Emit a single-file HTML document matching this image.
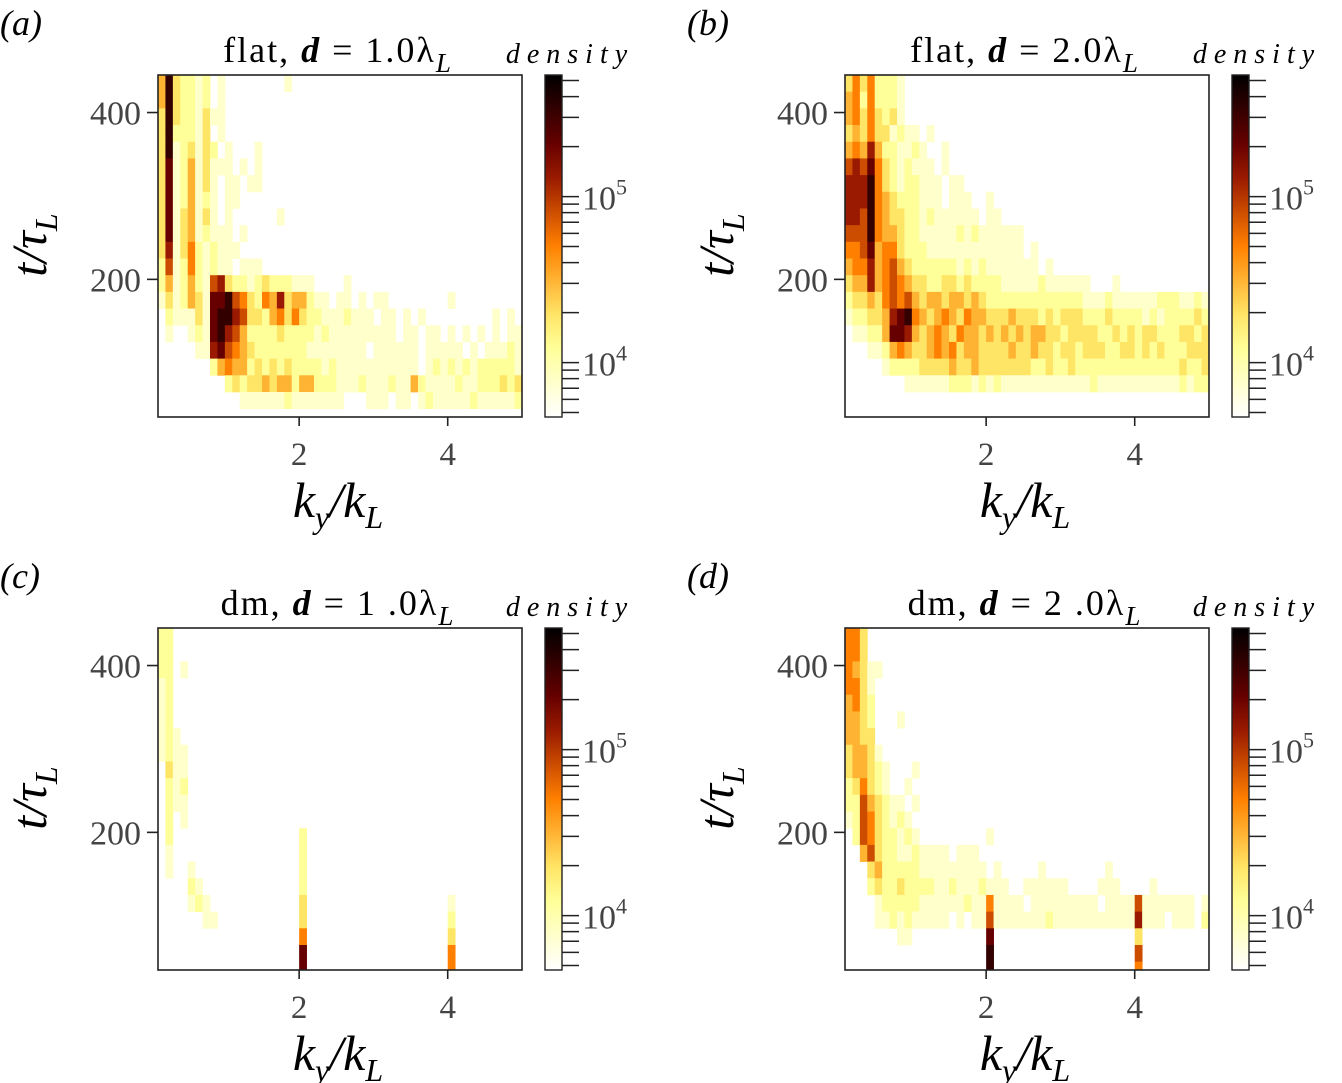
<!DOCTYPE html>
<html><head><meta charset="utf-8">
<style>
html,body{margin:0;padding:0;background:#fff;}
svg{display:block;font-family:"Liberation Serif",serif;}
</style></head>
<body>
<svg id="fig" width="1342" height="1083" viewBox="0 0 1342 1083" xmlns="http://www.w3.org/2000/svg"></svg>
<script>
// ---- chart data ----
// k_y/k_L bins: 0.1 .. 5.0, step 0.1 (one char per bin, spaces ignored); t/tau_L rows from 445 downward, 20 per row
// each char = density level 0 (empty) .. 9 (max)
const panelTitles = ["flat, d = 1.0λ", "flat, d = 2.0λ", "dm, d = 1 .0λ", "dm, d = 2 .0λ"];
const panelLetters = ["a", "b", "c", "d"];
const xTickValues = [2, 4];
const xTickLabels = ["2", "4"];
const yTickValues = [200, 400];
const yTickLabels = ["200", "400"];
const cbarMajorValues = [1e4, 1e5];
const cbarMajorLabels = ["10", "10"];
const cbarMajorExps = ["4", "5"];
const gridA = [
"4932212010 0000000100",
"4932212010",
"3932213110",
"3922213010",
"3912313201 0001",
"3812413111 0101",
"3812413101 1011",
"3812412101 10",
"3813413101 0000001",
"3813412111 01",
"3713521211 1",
"2612521211 0111",
"2412421673 2212322211 1000010",
"1312431889 6532547344 2110110101 1000000001",
"0211131899 7633245353 2211121110 1101010000 000001010",
"0100121897 6422223222 2121111111 1101101101 010101011",
"0000011786 5432222222 1111111101 1111101111 101011121",
"0000000245 4423232322 2212111111 1111101212 121222221",
"0000000002 3233434424 4222111211 1211421111 211222323",
"0000000000 0111111211 1111100011 1011012111 112111112"];
const gridB = [
"3535222100",
"4525222100",
"4535323100 00",
"3435331211 01",
"4547422112 1001",
"6768532121 1101",
"7779532122 1110110",
"7779543222 1110111001",
"7769543322 1211111101 1",
"6669544322 1111121211 1111",
"5568455322 2111111111 1111010",
"4557456432 2222212121 11111101",
"3447456543 3223323222 2111112111 1110001",
"2334356564 3443443432 2222222222 2211121111 112221121",
"1223347895 4345435443 3343332323 3322232222 121222232",
"0112248874 3454354434 3434344332 3333223232 332223323",
"0001124543 3454534433 3343343323 3233322332 323222333",
"0000012222 3333433433 3333322322 3222222222 222223223",
"0000000011 1111222121 2111111111 1112111111 111112122",
"0"];
const gridC = [
"22","22","22010","12","12","12","121","1211","0311","0212","0211","0201",
"0200000000 0000000002",
"0100000000 0000000002",
"0100100000 0000000002",
"0000210000 0000000002",
"0000121000 0000000003 0000000000 0000000001",
"0000001100 0000000003 0000000000 0000000002",
"0000000000 0000000005 0000000000 0000000003",
"0000000000 0000000008 0000000000 0000000005",
"0000000000 0000000008 0000000000 0000000005"];
const gridD = [
"553",
"5530",
"5431 1",
"5531",
"4532",
"44320001",
"4433",
"34431",
"3443210001",
"2353210010",
"2264321101",
"1265321210",
"0265322121 0000000001",
"0046322112 1111011100 00",
"0003422222 1111111110 1000001000 000001",
"0002322322 2211211121 1100111111 0000111000 01",
"0000122222 1111112115 1111011111 1111011116 111111101",
"0000112121 1111010116 1111111211 1111111117 111011102",
"0000000110 0000000008 0000000000 0000000003",
"0000000000 0000000009 0000000000 0000000006",
"0000000000 0000000009 0000000000 0000000005"];
const grids = [gridA, gridB, gridC, gridD];

const NS = "http://www.w3.org/2000/svg";
const svg = document.getElementById("fig");
function el(tag, attrs, parent) {
  const e = document.createElementNS(NS, tag);
  for (const k in attrs) e.setAttribute(k, attrs[k]);
  (parent || svg).appendChild(e);
  return e;
}
// afmhot_r colormap, v in [0,1]
function cmap(v) {
  const s = 2 * (1 - v);
  const c = x => Math.round(255 * Math.max(0, Math.min(1, x)));
  return `rgb(${c(s)},${c(s - 0.5)},${c(s - 1)})`;
}
const K0 = 0.1, K1 = 5.0, T0 = 35, T1 = 445, DK = 0.1, DT = 20;
const origins = [[158, 75], [845, 75], [158, 628], [845, 628]];
const PW = 364, PH = 342;
const CBMIN = Math.log10(4700), CBMAX = Math.log10(540000);

origins.forEach((o, p) => {
  const [x0, y0] = o;
  const g = el("g", {});
  
  
  const xs = k => x0 + (k - K0) / (K1 - K0) * PW;
  const ys = t => y0 + (T1 - t) / (T1 - T0) * PH;
  const clip = el("clipPath", { id: "clip" + p }, g);
  el("rect", { x: x0, y: y0, width: PW, height: PH }, clip);
  const hm = el("g", { "clip-path": `url(#clip${p})` }, g);
  
  
  grids[p].forEach((rowRaw, r) => {
    const row = rowRaw.replace(/ /g, "");
    const tHi = T1 - r * DT, tLo = tHi - DT;
    for (let i = 0; i < row.length; i++) {
      const lv = +row[i];
      if (!lv) continue;
      const kLo = K0 + i * DK;
      const rc = el("rect", {
        x: xs(kLo).toFixed(2), y: ys(tHi).toFixed(2),
        width: (xs(kLo + DK) - xs(kLo) + 0.4).toFixed(2),
        height: (ys(tLo) - ys(tHi) + 0.4).toFixed(2),
        fill: cmap(lv / 10)
      }, hm);
      
      
    }
  });
  const frame = el("rect", { x: x0, y: y0, width: PW, height: PH, fill: "none", stroke: "#222", "stroke-width": 1.6 }, g);
  
  
  xTickValues.forEach((v, i) => {
    const x = xs(v);
    el("line", { x1: x, x2: x, y1: y0 + PH, y2: y0 + PH + 9, stroke: "#222", "stroke-width": 1.6 }, g);
    const t = el("text", { x: x, y: y0 + PH + 48, "font-size": 33, fill: "#444", "text-anchor": "middle" }, g);
    t.textContent = xTickLabels[i];
    
    
  });
  yTickValues.forEach((v, i) => {
    const y = ys(v);
    el("line", { x1: x0 - 11, x2: x0, y1: y, y2: y, stroke: "#222", "stroke-width": 1.6 }, g);
    const t = el("text", { x: x0 - 17, y: y + 12, "font-size": 34, fill: "#444", "text-anchor": "end" }, g);
    t.textContent = yTickLabels[i];
    
    
  });
  const xt = el("text", { x: x0 + PW / 2 - 2, y: y0 + PH + 100, "font-size": 50, "font-style": "italic", "text-anchor": "middle" }, g);
  xt.innerHTML = 'k<tspan font-size="32" dy="11">y</tspan><tspan dy="-11">/k</tspan><tspan font-size="32" dy="11">L</tspan>';
  
  
  const yt = el("text", { x: 0, y: 0, "font-size": 50, "font-style": "italic", "text-anchor": "middle", transform: `translate(${x0 - 112},${y0 + 170}) rotate(-90)` }, g);
  yt.innerHTML = 't/τ<tspan font-size="32" dy="11">L</tspan>';
  
  
  const pl = el("text", { x: x0 - 158, y: y0 - 40, "font-size": 36, "font-style": "italic" }, g);
  pl.innerHTML = '(' + panelLetters[p] + ')';
  
  
  const parts = panelTitles[p].split("d = ");
  const tt = el("text", { x: x0 + PW / 2 - 2, y: y0 - 13, "font-size": 36, "text-anchor": "middle", "letter-spacing": 2 }, g);
  tt.innerHTML = parts[0] + '<tspan font-style="italic" font-weight="bold">d</tspan> = ' + parts[1] + '<tspan font-size="27" font-style="italic" dy="10">L</tspan>';
  
  
  const cx = x0 + 387, cw = 17;
  const gid = "cg" + p;
  const lg = el("linearGradient", { id: gid, x1: 0, y1: 1, x2: 0, y2: 0 }, g);
  for (let s = 0; s <= 10; s++) el("stop", { offset: s / 10, "stop-color": cmap(s / 10) }, lg);
  const cb = el("rect", { x: cx, y: y0, width: cw, height: PH, fill: `url(#${gid})`, stroke: "#222", "stroke-width": 1.4 }, g);
  
  
  const cy = v => y0 + (CBMAX - Math.log10(v)) / (CBMAX - CBMIN) * PH;
  for (let d = 3; d <= 5; d++) for (let m = 1; m <= 9; m++) {
    const v = m * Math.pow(10, d);
    if (v < 4700 || v > 540000) continue;
    const y = cy(v);
    el("line", { x1: cx + cw, x2: cx + cw + 17, y1: y, y2: y, stroke: "#222", "stroke-width": 1.5 }, g);
  }
  cbarMajorValues.forEach((v, i) => {
    const t = el("text", { x: cx + cw + 20, y: cy(v) + 13, "font-size": 34, fill: "#444" }, g);
    t.innerHTML = cbarMajorLabels[i] + '<tspan font-size="22" dy="-15">' + cbarMajorExps[i] + '</tspan>';
    
    
  });
  const dl = el("text", { x: cx + 25, y: y0 - 12, "font-size": 28, "font-style": "italic", "text-anchor": "middle", "letter-spacing": 7 }, g);
  dl.textContent = "density";
  
  
});
</script>
</body></html>
